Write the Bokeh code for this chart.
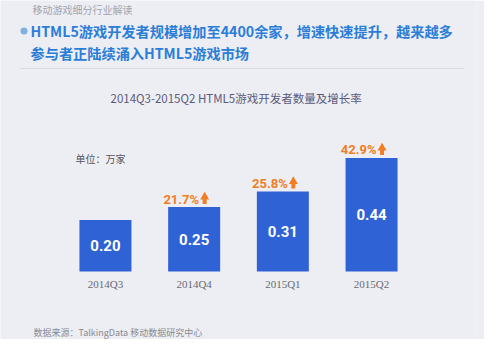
from bokeh.plotting import figure
from bokeh.models import ColumnDataSource, Range1d, FactorRange, Label, BoxAnnotation
from bokeh.transform import dodge
from bokeh.core.properties import value
from bokeh.embed import file_html
from bokeh.resources import INLINE

# ---- data ----
categories = ["2014Q3", "2014Q4", "2015Q1", "2015Q2"]
developers = [0.20, 0.25, 0.31, 0.44]          # 万家
growth = [None, 21.7, 25.8, 42.9]              # %

W, H = 484, 339
PPU = 258.0          # pixels per data unit (vertical)
BASE = 68.0          # pixels from canvas bottom to the bar baseline
FRAME_W = 476
STEP = 88.7          # pixels per category

CJK_NAME = "Noto Sans CJK SC"
NARROW = value("Roboto")

pad = (FRAME_W / STEP - len(categories)) / 2.0
p = figure(width=W, height=H, output_backend="svg", toolbar_location=None,
           x_range=FactorRange(factors=categories, range_padding=pad, range_padding_units="absolute"),
           y_range=Range1d(-BASE / PPU, (H - BASE) / PPU),
           min_border=0, min_border_right=W - FRAME_W)
p.axis.visible = False
p.grid.visible = False
p.outline_line_color = None
p.background_fill_color = "#eceef3"
p.border_fill_color = "#eceef3"

src = ColumnDataSource(dict(
    cat=categories,
    val=developers,
    half=[v / 2 for v in developers],
    vlabel=["%.2f" % v for v in developers],
    zero=[0] * len(categories),
))

p.vbar(x="cat", top="val", bottom=0, width=52 / STEP, source=src,
       fill_color="#2f62d5", line_color=None)

p.text(x="cat", y="half", text="vlabel", source=src, text_color="white",
       text_font=NARROW, text_font_style="bold", text_font_size="15px",
       text_align="center", text_baseline="middle")

p.text(x="cat", y="zero", text="cat", source=src, text_color="#6a6a72",
       text_font=value("Liberation Serif"), text_font_size="11px",
       text_align="center", text_baseline="middle", y_offset=12)

g_cat = [c for c, g in zip(categories, growth) if g is not None]
g_val = [v for v, g in zip(developers, growth) if g is not None]
g_txt = ["%.1f%%" % g for g in growth if g is not None]
gsrc = ColumnDataSource(dict(
    cat=g_cat, val=g_val, txt=g_txt,
    tri=[v + 10.0 / PPU for v in g_val],
    stem=[v + 5.5 / PPU for v in g_val],
))
p.text(x="cat", y="val", text="txt", source=gsrc, text_color="#f27d22",
       text_font=NARROW, text_font_style="bold", text_font_size="13px",
       text_align="right", text_baseline="middle", x_offset=5, y_offset=-8)
ax = dodge("cat", 10.5 / STEP, range=p.x_range)
p.scatter(x=ax, y="tri", source=gsrc, marker="triangle", size=9,
          fill_color="#f27d22", line_color=None)
p.rect(x=ax, y="stem", width=4, height=5, width_units="screen", height_units="screen",
       source=gsrc, fill_color="#f27d22", line_color=None)

# ---- texts & decorations ----
def lab(x, y, t, size, color, bold=False):
    p.add_layout(Label(x=x, y=y, x_units="screen", y_units="screen", text=t,
                       text_font=CJK_NAME, text_font_size=size, text_color=color,
                       text_font_style="bold" if bold else "normal",
                       text_baseline="middle"))

lab(32, 330, "移动游戏细分行业解读", "10px", "#a4a4ae")
p.add_layout(BoxAnnotation(left=20, right=27, bottom=305, top=312,
                           left_units="screen", right_units="screen",
                           bottom_units="screen", top_units="screen",
                           fill_color="#7fb0e0", fill_alpha=1, line_color=None,
                           border_radius=4))
lab(30, 309, "HTML5游戏开发者规模增加至4400余家，增速快速提升，越来越多", "14.2px", "#2b7dd7", True)
lab(30, 287, "参与者正陆续涌入HTML5游戏市场", "14.2px", "#2b7dd7", True)
p.add_layout(BoxAnnotation(left=20, right=464, bottom=270.5, top=271.5,
                           left_units="screen", right_units="screen",
                           bottom_units="screen", top_units="screen",
                           fill_color="#d6dae2", fill_alpha=1, line_color=None))
lab(110, 242, "2014Q3-2015Q2 HTML5游戏开发者数量及增长率", "11.5px", "#5b5b7a")
lab(75, 181, "单位：万家", "10px", "#555560")
lab(33, 7, "数据来源：TalkingData 移动数据研究中心", "9px", "#8a8a94")

open("out.html", "w").write(file_html(p, INLINE))
